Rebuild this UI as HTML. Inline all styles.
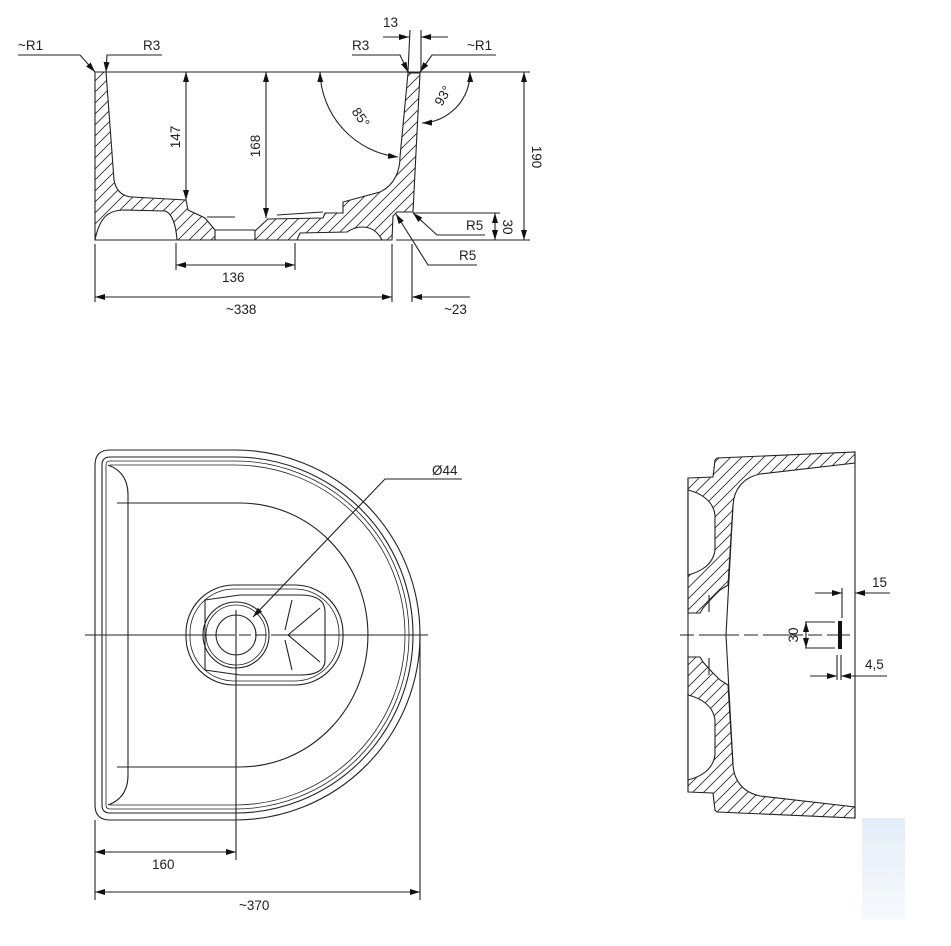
<!DOCTYPE html>
<html><head><meta charset="utf-8"><style>
html,body{margin:0;padding:0;background:#fff;}
svg{display:block;}
text{font-family:"Liberation Sans",sans-serif;font-size:13.5px;fill:#222;}
</style></head><body>
<svg width="951" height="946" viewBox="0 0 951 946" xmlns="http://www.w3.org/2000/svg">
<defs>
<pattern id="h" width="11" height="11" patternUnits="userSpaceOnUse">
<path d="M-1,12 L12,-1 M-2,2 L2,-2 M9,13 L13,9" stroke="#333" stroke-width="0.9"/>
</pattern>
<marker id="a" viewBox="0 0 10 6" refX="10" refY="3" markerWidth="10" markerHeight="6" orient="auto-start-reverse" markerUnits="userSpaceOnUse">
<path d="M0,0 L10,3 L0,6 Z" fill="#111"/>
</marker>
<linearGradient id="wm" x1="0" y1="0" x2="0" y2="1"><stop offset="0" stop-color="#e3edf7"/><stop offset="1" stop-color="#f7fafd"/></linearGradient>
</defs>
<g fill="none" stroke="#222" stroke-width="1.1">
<!-- TOP SECTION VIEW -->
<line x1="95" y1="72" x2="530" y2="72"/>
<line x1="95" y1="240" x2="392" y2="240"/>
<line x1="396" y1="240" x2="530" y2="240"/>
<path d="M95,72 L106,72 L114,180 Q117,196 132,197 L186,200 L188,210 L205,218 L215,230 L215,240 L95,240 Z" fill="url(#h)"/>
<path d="M95,240 C100,215 110,210 125,210 L165,211 C172,213 176,225 177,240 Z" fill="#fff"/>
<path d="M255,240 L255,231 L268,219 L323,218 L325,213 L343,213 L343,202 L380,192 C395,185 400,170 400,157 L408,73 L420,73 L413,212 L397,212 L393,216 L392,240 Z" fill="url(#h)"/>
<path d="M297,240 L300,233 L347,232 C352,229 356,227 362,227 C372,227 378,232 382,240 Z" fill="#fff"/>
<line x1="215" y1="230" x2="255" y2="230"/>
<line x1="207" y1="217" x2="235" y2="217"/>
<line x1="277" y1="215" x2="323" y2="212"/>
<!-- dims top -->
<line x1="186" y1="72" x2="186" y2="200" marker-start="url(#a)" marker-end="url(#a)"/>
<line x1="266" y1="72" x2="266" y2="218" marker-start="url(#a)" marker-end="url(#a)"/>
<path d="M320,72 A88,88 0 0 0 398,157" marker-start="url(#a)" marker-end="url(#a)"/>
<path d="M470,72 A50,50 0 0 1 422,123" marker-start="url(#a)" marker-end="url(#a)"/>
<line x1="524" y1="72" x2="524" y2="240" marker-start="url(#a)" marker-end="url(#a)"/>
<line x1="413" y1="213" x2="500" y2="213"/>
<line x1="495" y1="213" x2="495" y2="240" marker-start="url(#a)" marker-end="url(#a)"/>
<polyline points="485,235 437,235 413,213" marker-end="url(#a)"/>
<polyline points="477,265 428,265 396,214" marker-end="url(#a)"/>
<polyline points="18,55 80,55 95,72" marker-end="url(#a)"/>
<polyline points="162,55 107,55 106,72" marker-end="url(#a)"/>
<polyline points="352,55 400,55 408,72" marker-end="url(#a)"/>
<polyline points="496,55 432,55 420,72" marker-end="url(#a)"/>
<line x1="408" y1="72" x2="410" y2="30"/>
<line x1="421" y1="72" x2="421" y2="30"/>
<line x1="383" y1="37" x2="409" y2="37" marker-end="url(#a)"/>
<line x1="448" y1="37" x2="421" y2="37" marker-end="url(#a)"/>
<line x1="176" y1="243" x2="176" y2="270"/>
<line x1="295" y1="243" x2="295" y2="270"/>
<line x1="176" y1="265" x2="295" y2="265" marker-start="url(#a)" marker-end="url(#a)"/>
<line x1="95" y1="244" x2="95" y2="302"/>
<line x1="392" y1="244" x2="392" y2="302"/>
<line x1="412" y1="244" x2="412" y2="302"/>
<line x1="95" y1="297" x2="392" y2="297" marker-start="url(#a)" marker-end="url(#a)"/>
<line x1="470" y1="297" x2="412" y2="297" marker-end="url(#a)"/>

<!-- PLAN VIEW -->
<path d="M110,450 L235,450 A185,185 0 0 1 420,635 A185,185 0 0 1 235,820 L110,820 Q95,820 95,805 L95,465 Q95,450 110,450 Z"/>
<path d="M110,457 L235,457 A178,178 0 0 1 413,635 A178,178 0 0 1 235,813 L110,813 Q102,813 102,805 L102,465 Q102,457 110,457 Z"/>
<path d="M110,461 L235,461 A174,174 0 0 1 409,635 A174,174 0 0 1 235,809 L110,809 Q106,809 106,805 L106,465 Q106,461 110,461 Z" stroke-width="0.8"/>
<path d="M110,465 L235,465 A170,170 0 0 1 405,635 A170,170 0 0 1 235,805 L110,805" stroke-width="0.8"/>
<path d="M108,465 C122,470 128,480 128,495 L128,775 C128,790 122,800 108,805"/>
<path d="M117,503 L240,503 A128,132 0 0 1 240,767 L117,767"/>
<rect x="186" y="585" width="157" height="100" rx="48" ry="48"/>
<rect x="190" y="589" width="149" height="92" rx="44" ry="44" stroke-width="0.8"/>
<path d="M205,600 L240,595 L300,595 Q325,595 325,612 L325,660 Q325,675 300,675 L240,675 L205,670 Z"/>
<circle cx="236" cy="635" r="33"/>
<circle cx="236" cy="635" r="30" stroke-width="0.8"/>
<circle cx="236" cy="635" r="20"/>
<path d="M288,635 L320,608 M288,635 L320,662 M292,600 L285,630 M292,670 L285,640 M288,635 L300,645"/>
<line x1="85" y1="635" x2="428" y2="635" stroke-dasharray="150,4,12,4,12,4,200"/>
<line x1="236" y1="610" x2="236" y2="860"/>
<line x1="420" y1="635" x2="420" y2="900"/>
<line x1="95" y1="820" x2="95" y2="900"/>
<line x1="95" y1="852" x2="236" y2="852" marker-start="url(#a)" marker-end="url(#a)"/>
<line x1="95" y1="892" x2="420" y2="892" marker-start="url(#a)" marker-end="url(#a)"/>
<polyline points="462,479 385,479 253,617" marker-end="url(#a)"/>

<!-- SIDE VIEW -->
<line x1="855" y1="452" x2="855" y2="818"/>
<path d="M688,478 L713,477 L715,460 L717,458 L855,452 L855,463 L760,474 C742,478 734,490 733,505 L728,585 L720,590 L712,598 L703,608 L700,613 L688,613 Z" fill="url(#h)"/>
<path d="M688,490 C700,493 713,500 715,515 L715,550 C713,565 700,572 688,575 Z" fill="#fff"/>
<path d="M733,505 L726,635"/>
<line x1="709" y1="595" x2="709" y2="612"/>
<path d="M688,792 L713,793 L715,810 L717,812 L855,818 L855,807 L760,796 C742,792 734,780 733,765 L728,685 L720,680 L712,672 L703,662 L700,657 L688,657 Z" fill="url(#h)"/>
<path d="M688,780 C700,777 713,770 715,755 L715,720 C713,705 700,698 688,695 Z" fill="#fff"/>
<path d="M733,765 L726,635"/>
<line x1="709" y1="658" x2="709" y2="675"/>
<line x1="688" y1="478" x2="688" y2="792"/>
<line x1="680" y1="635" x2="850" y2="635" stroke-dasharray="14,5,40,5"/>
<line x1="842" y1="588" x2="842" y2="618"/>
<line x1="815" y1="593" x2="842" y2="593" marker-end="url(#a)"/>
<line x1="890" y1="593" x2="855" y2="593" marker-end="url(#a)"/>
<line x1="805" y1="622" x2="835" y2="622"/>
<line x1="805" y1="648" x2="835" y2="648"/>
<line x1="806" y1="622" x2="806" y2="648" marker-start="url(#a)" marker-end="url(#a)"/>
<line x1="837" y1="655" x2="837" y2="680"/>
<line x1="841" y1="655" x2="841" y2="680"/>
<line x1="810" y1="676" x2="837" y2="676" marker-end="url(#a)"/>
<line x1="887" y1="676" x2="841" y2="676" marker-end="url(#a)"/>
</g>
<rect x="838" y="621" width="4" height="28" fill="#111"/>
<rect x="862" y="818" width="43" height="102" fill="url(#wm)"/>

<text x="18" y="50">~R1</text>
<text x="143" y="50">R3</text>
<text x="352" y="50">R3</text>
<text x="467" y="50">~R1</text>
<text x="383" y="27">13</text>
<text x="466" y="230">R5</text>
<text x="459" y="260">R5</text>
<text x="222" y="282">136</text>
<text x="226" y="314">~338</text>
<text x="444" y="314">~23</text>
<text transform="translate(180,137) rotate(-90)" text-anchor="middle">147</text>
<text transform="translate(260,146) rotate(-90)" text-anchor="middle">168</text>
<text transform="translate(532,157) rotate(90)" text-anchor="middle">190</text>
<text transform="translate(503,227) rotate(90)" text-anchor="middle">30</text>
<text transform="translate(357,120) rotate(55)" text-anchor="middle">85°</text>
<text transform="translate(447,98) rotate(-60)" text-anchor="middle">93°</text>
<text x="432" y="475">Ø44</text>
<text x="152" y="869">160</text>
<text x="239" y="910">~370</text>
<text x="872" y="587">15</text>
<text x="865" y="669">4,5</text>
<text transform="translate(798,635) rotate(-90)" text-anchor="middle">30</text>
</svg>
</body></html>
